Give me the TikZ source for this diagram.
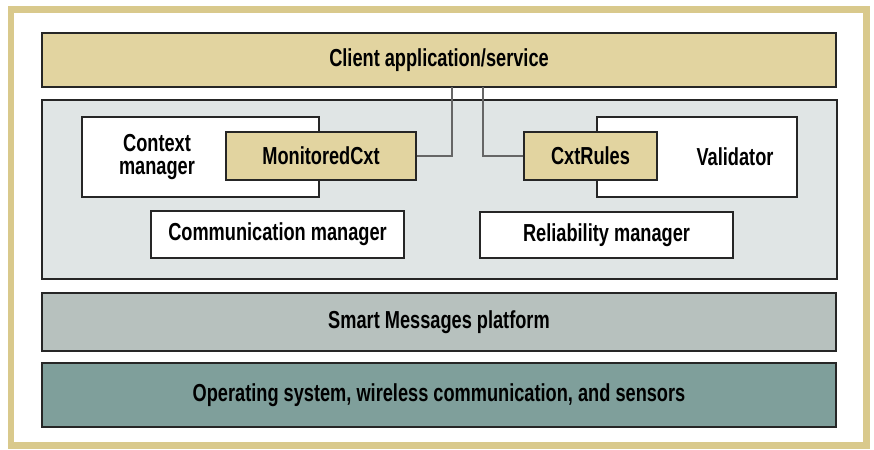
\documentclass[tikz,border=0pt]{standalone}
\usepackage{fontspec}
\setmainfont{Liberation Sans}[FakeStretch=0.74]
\definecolor{frametan}{HTML}{D9C98C}
\definecolor{clienttan}{HTML}{E2D4A0}
\definecolor{panelgray}{HTML}{E0E5E5}
\definecolor{smartgray}{HTML}{B7C1BE}
\definecolor{osgreen}{HTML}{7F9F9B}
\tikzset{
  layer/.style={draw=black!85, line width=0.9pt, inner sep=0pt},
  whitebox/.style={layer, fill=white},
  tanbox/.style={layer, fill=clienttan},
  label/.style={font=\bfseries\fontsize{14}{13.2}\selectfont, align=center},
  wire/.style={draw=black!60, line width=0.6pt}
}
\begin{document}
\begin{tikzpicture}[x=0.02cm, y=-0.02cm]
                    \useasboundingbox (0,0) rectangle (874,449);
                    {
                    % Drawing outer frame
                    \draw [frametan, line width=0.14cm] (11,10) rectangle (866,445);%

                    % Drawing layer Client application/service
                    \node [tanbox, minimum width=15.88cm, minimum height=1.08cm, label] (client) at (439,60) {Client application/service};%

                    % Drawing middle panel
                    \node [layer, fill=panelgray, minimum width=15.9cm, minimum height=3.58cm] (panel) at (439.5,189.5) {};%

                    % Drawing Context manager box and MonitoredCxt
                    \node [whitebox, minimum width=4.74cm, minimum height=1.6cm] (ctxmgr) at (200.5,157) {};%
                    \node [label] (ctxlabel) at (157,157) {Context\\manager};%
                    \node [tanbox, minimum width=3.8cm, minimum height=0.96cm, label] (monitored) at (321,156) {MonitoredCxt};%

                    % Drawing Validator box and CxtRules
                    \node [whitebox, minimum width=4cm, minimum height=1.6cm] (validator) at (697,157) {};%
                    \node [label] (vallabel) at (735,157) {Validator};%
                    \node [tanbox, minimum width=2.66cm, minimum height=0.96cm, label] (cxtrules) at (590.5,156) {CxtRules};%

                    % Drawing Communication manager and Reliability manager
                    \node [whitebox, minimum width=5.06cm, minimum height=0.94cm, label] (comm) at (277.5,234.5) {Communication manager};%
                    \node [whitebox, minimum width=5.06cm, minimum height=0.92cm, label] (reliab) at (606.5,235) {Reliability manager};%

                    % Drawing layer Smart Messages platform
                    \node [layer, fill=smartgray, minimum width=15.88cm, minimum height=1.16cm, label] (smart) at (439,322) {Smart Messages platform};%

                    % Drawing layer Operating system
                    \node [layer, fill=osgreen, minimum width=15.88cm, minimum height=1.28cm, label] (os) at (439,395) {Operating system, wireless communication, and sensors};%

                    % Drawing wires up to the client
                    \coordinate (upL) at (452,87);%
                    \coordinate (upR) at (483,87);%
                    \draw [wire] (monitored.east) -| (upL);%
                    \draw [wire] (cxtrules.west) -| (upR);%
                    }
                \end{tikzpicture}
\end{document}
